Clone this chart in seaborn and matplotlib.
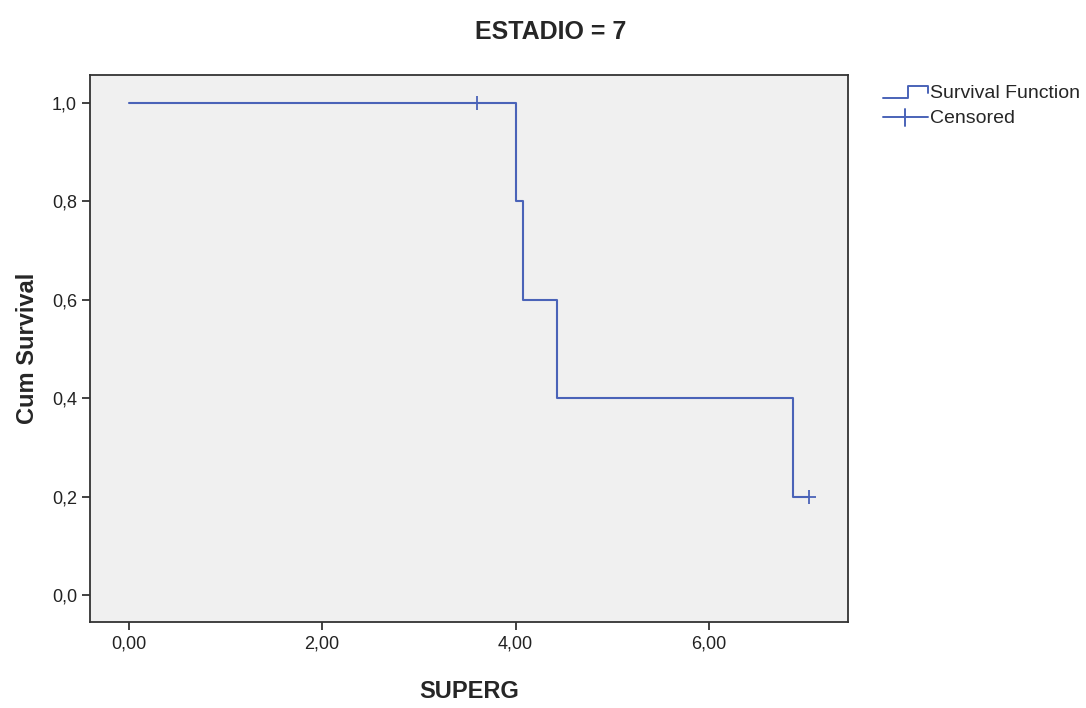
import numpy as np
import pandas as pd
import seaborn as sns
import matplotlib.pyplot as plt
from matplotlib.legend_handler import HandlerBase
from matplotlib.lines import Line2D

sns.set_style("white")
plt.rcParams["font.family"] = ["Liberation Sans", "DejaVu Sans"]

# step curve of the Kaplan-Meier estimate
step_time = [0.0, 4.0, 4.08, 4.43, 6.87, 7.04]
step_surv = [1.0, 0.8, 0.6, 0.4, 0.2, 0.2]
# censored cases
cens_time = [3.6, 7.04]
cens_surv = [1.0, 0.2]

x_ticks = [0, 2, 4, 6]
y_ticks = [0.0, 0.2, 0.4, 0.6, 0.8, 1.0]

blue = "#4a63b8"

steps = pd.DataFrame({"time": step_time, "surv": step_surv})
cens = pd.DataFrame({"time": cens_time, "surv": cens_surv})

fig = plt.figure(figsize=(10.86, 7.08), dpi=100)
ax = fig.add_axes([0.083, 0.1215, 0.698, 0.7725])
ax.set_facecolor("#f0f0f0")

sns.lineplot(data=steps, x="time", y="surv", drawstyle="steps-post",
             color=blue, linewidth=1.5, estimator=None, ax=ax)
sns.scatterplot(data=cens, x="time", y="surv", marker="+", s=110,
                color=blue, linewidth=1.3, ax=ax, zorder=3)

ax.set_xlim(-0.4, 7.44)
ax.set_ylim(-0.055, 1.057)
ax.set_xticks(x_ticks)
ax.set_xticklabels([f"{v:.2f}".replace(".", ",") for v in x_ticks])
ax.set_yticks(y_ticks)
ax.set_yticklabels([f"{v:.1f}".replace(".", ",") for v in y_ticks])
ax.tick_params(axis="both", length=6, width=1.3, color="#333333",
               labelsize=13, labelcolor="#222222", direction="out",
               bottom=True, left=True)
for s in ax.spines.values():
    s.set_color("#333333")
    s.set_linewidth(1.3)

ax.set_xlabel("SUPERG", fontsize=17, fontweight="bold", labelpad=20)
ax.set_ylabel("Cum Survival", fontsize=17, fontweight="bold", labelpad=9)
fig.suptitle("ESTADIO = 7", fontsize=18, fontweight="bold", y=0.972, x=0.507)


class StepHandler(HandlerBase):
    def create_artists(self, legend, orig, xd, yd, w, h, fontsize, trans):
        xs = [xd, xd + w * 0.55, xd + w * 0.55, xd + w, xd + w]
        ys = [yd, yd, yd + h * 0.9, yd + h * 0.9, yd + h * 0.4]
        ln = Line2D(xs, ys, color=blue, linewidth=1.4, transform=trans)
        return [ln]


class CensHandler(HandlerBase):
    def create_artists(self, legend, orig, xd, yd, w, h, fontsize, trans):
        ln = Line2D([xd, xd + w], [yd + h * 0.4] * 2, color=blue,
                    linewidth=1.4, transform=trans)
        mk = Line2D([xd + w * 0.5, xd + w * 0.5], [yd - h * 0.2, yd + h * 1.0],
                    color=blue, linewidth=1.4, transform=trans)
        return [ln, mk]


h1 = Line2D([], [], color=blue)
h2 = Line2D([], [], color=blue, marker="+")
fig.legend([h1, h2], ["Survival Function", "Censored"],
           handler_map={h1: StepHandler(), h2: CensHandler()},
           loc="upper left", bbox_to_anchor=(0.797, 0.905), frameon=False,
           fontsize=14, handlelength=2.3, handletextpad=0.1, labelspacing=0.35)

fig.savefig("out.png", dpi=100)
